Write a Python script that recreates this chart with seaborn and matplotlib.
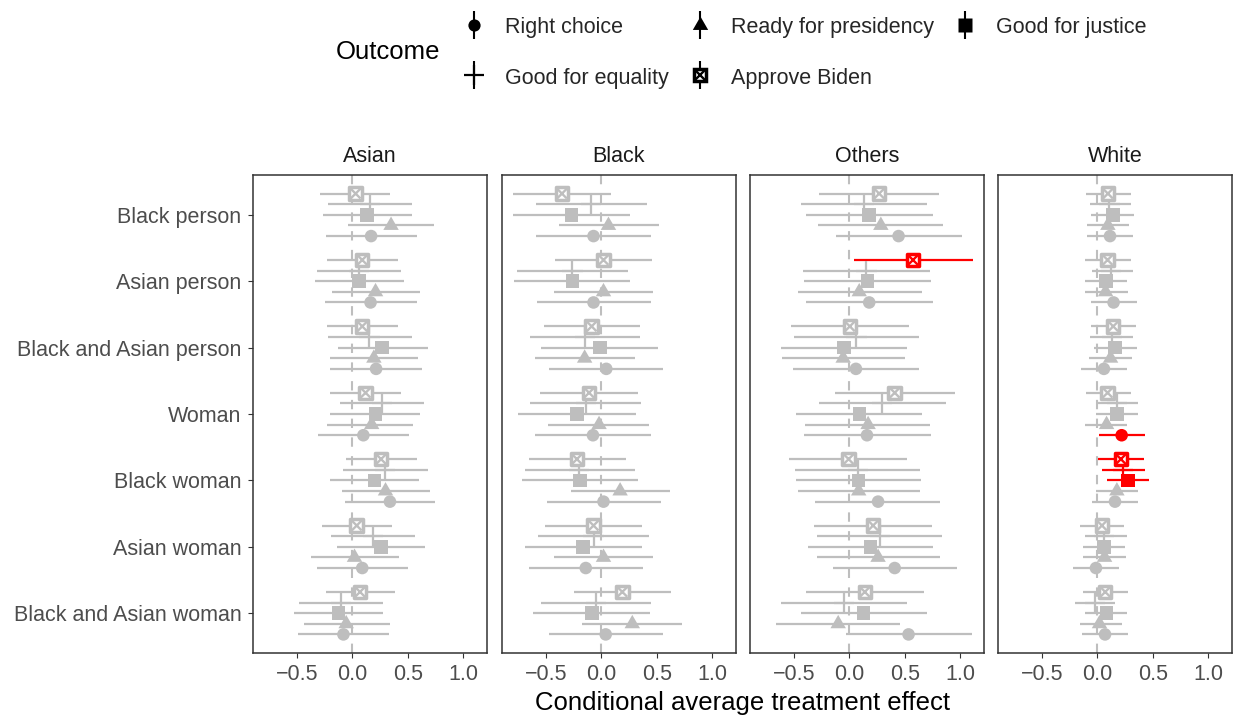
import numpy as np
import pandas as pd
import matplotlib
matplotlib.use("Agg")
import matplotlib.pyplot as plt
import seaborn as sns
from matplotlib.lines import Line2D
from matplotlib.path import Path
from matplotlib.legend_handler import HandlerTuple

# ---------------- data ----------------
treatments = ["Black person", "Asian person", "Black and Asian person", "Woman",
              "Black woman", "Asian woman", "Black and Asian woman"]
groups = ["Asian", "Black", "Others", "White"]
outcomes = ["Right choice", "Ready for presidency", "Good for justice",
            "Good for equality", "Approve Biden"]
x_ticks = [-0.5, 0.0, 0.5, 1.0]
x_tick_labels = ["\u22120.5", "0.0", "0.5", "1.0"]

# rows = outcomes (in the order above), columns = treatments
asian_est = [[0.17, 0.165, 0.215, 0.10, 0.34, 0.09, -0.08],
             [0.35, 0.21, 0.195, 0.175, 0.30, 0.02, -0.055],
             [0.135, 0.06, 0.27, 0.21, 0.20, 0.26, -0.125],
             [0.16, 0.06, 0.155, 0.27, 0.295, 0.19, -0.10],
             [0.03, 0.09, 0.09, 0.12, 0.26, 0.04, 0.07]]
asian_lo = [[-0.24, -0.25, -0.20, -0.31, -0.07, -0.32, -0.49],
            [-0.04, -0.18, -0.20, -0.23, -0.09, -0.37, -0.44],
            [-0.26, -0.34, -0.13, -0.20, -0.20, -0.14, -0.525],
            [-0.22, -0.32, -0.22, -0.11, -0.08, -0.19, -0.48],
            [-0.29, -0.23, -0.23, -0.20, -0.06, -0.27, -0.24]]
asian_hi = [[0.58, 0.58, 0.63, 0.51, 0.75, 0.50, 0.33],
            [0.74, 0.61, 0.59, 0.55, 0.70, 0.42, 0.34],
            [0.54, 0.47, 0.68, 0.61, 0.60, 0.66, 0.28],
            [0.54, 0.44, 0.54, 0.645, 0.68, 0.57, 0.28],
            [0.345, 0.41, 0.41, 0.44, 0.58, 0.36, 0.39]]

black_est = [[-0.07, -0.07, 0.045, -0.075, 0.02, -0.14, 0.04],
             [0.065, 0.02, -0.15, -0.02, 0.17, 0.02, 0.28],
             [-0.27, -0.26, -0.012, -0.22, -0.19, -0.165, -0.085],
             [-0.09, -0.26, -0.15, -0.14, -0.20, -0.07, -0.05],
             [-0.355, 0.02, -0.087, -0.11, -0.22, -0.07, 0.19]]
black_lo = [[-0.59, -0.58, -0.47, -0.60, -0.49, -0.65, -0.475],
            [-0.385, -0.43, -0.60, -0.48, -0.275, -0.43, -0.17],
            [-0.80, -0.79, -0.54, -0.75, -0.72, -0.69, -0.615],
            [-0.59, -0.76, -0.645, -0.645, -0.69, -0.57, -0.54],
            [-0.80, -0.42, -0.52, -0.555, -0.655, -0.51, -0.245]]
black_hi = [[0.45, 0.45, 0.56, 0.445, 0.535, 0.38, 0.56],
            [0.52, 0.47, 0.30, 0.43, 0.62, 0.47, 0.73],
            [0.255, 0.26, 0.51, 0.315, 0.33, 0.37, 0.44],
            [0.41, 0.24, 0.35, 0.36, 0.30, 0.43, 0.45],
            [0.085, 0.455, 0.35, 0.33, 0.22, 0.37, 0.63]]

others_est = [[0.445, 0.18, 0.06, 0.16, 0.26, 0.41, 0.535],
              [0.285, 0.09, -0.055, 0.17, 0.085, 0.26, -0.10],
              [0.18, 0.165, -0.05, 0.093, 0.085, 0.19, 0.13],
              [0.13, 0.155, 0.065, 0.295, 0.08, 0.275, -0.05],
              [0.27, 0.575, 0.005, 0.41, -0.006, 0.215, 0.14]]
others_lo = [[-0.12, -0.39, -0.505, -0.41, -0.31, -0.15, -0.03],
             [-0.28, -0.465, -0.61, -0.40, -0.465, -0.29, -0.66],
             [-0.39, -0.41, -0.62, -0.48, -0.48, -0.37, -0.44],
             [-0.44, -0.42, -0.50, -0.275, -0.49, -0.29, -0.615],
             [-0.27, 0.04, -0.525, -0.13, -0.54, -0.315, -0.39]]
others_hi = [[1.02, 0.76, 0.625, 0.735, 0.82, 0.975, 1.105],
             [0.85, 0.66, 0.50, 0.73, 0.64, 0.815, 0.455],
             [0.76, 0.735, 0.52, 0.66, 0.65, 0.76, 0.70],
             [0.70, 0.73, 0.63, 0.87, 0.64, 0.84, 0.52],
             [0.81, 1.12, 0.54, 0.95, 0.525, 0.75, 0.675]]

white_est = [[0.115, 0.147, 0.06, 0.22, 0.16, -0.012, 0.07],
             [0.096, 0.075, 0.12, 0.084, 0.177, 0.066, 0.02],
             [0.14, 0.078, 0.16, 0.177, 0.276, 0.06, 0.084],
             [0.11, 0.125, 0.13, 0.175, 0.23, 0.06, -0.024],
             [0.096, 0.093, 0.144, 0.093, 0.213, 0.042, 0.072]]
white_lo = [[-0.09, -0.055, -0.147, 0.015, -0.045, -0.22, -0.14],
            [-0.095, -0.115, -0.075, -0.11, -0.015, -0.126, -0.156],
            [-0.055, -0.115, -0.033, -0.015, 0.084, -0.13, -0.108],
            [-0.07, -0.05, -0.063, -0.01, 0.04, -0.115, -0.20],
            [-0.105, -0.11, -0.06, -0.105, 0.01, -0.156, -0.13]]
white_hi = [[0.325, 0.36, 0.267, 0.43, 0.37, 0.195, 0.276],
            [0.29, 0.28, 0.31, 0.27, 0.37, 0.26, 0.225],
            [0.33, 0.27, 0.355, 0.37, 0.47, 0.25, 0.27],
            [0.30, 0.325, 0.32, 0.366, 0.43, 0.264, 0.16],
            [0.30, 0.30, 0.35, 0.30, 0.42, 0.243, 0.276]]

panel_data = {
    "Asian": (asian_est, asian_lo, asian_hi),
    "Black": (black_est, black_lo, black_hi),
    "Others": (others_est, others_lo, others_hi),
    "White": (white_est, white_lo, white_hi),
}

rows = []
for g in groups:
    est, lo, hi = panel_data[g]
    for oi, o in enumerate(outcomes):
        for ti, t in enumerate(treatments):
            rows.append(dict(group=g, outcome=o, treatment=t, oi=oi, ti=ti,
                             est=est[oi][ti], lo=lo[oi][ti], hi=hi[oi][ti]))
df = pd.DataFrame(rows)
df["sig"] = (df["lo"] > 0) | (df["hi"] < 0)
dodge = 0.8 / len(outcomes)
df["y"] = df["ti"] + (2 - df["oi"]) * dodge

# ---------------- style ----------------
sns.set_theme(style="white")
plt.rcParams["font.family"] = ["Liberation Sans", "DejaVu Sans"]

GRAY = "#BEBEBE"
RED = "#FF0000"
pal = {False: GRAY, True: RED}
TICK_FS = 15.5
TITLE_FS = 18.5

tri = Path([(-1, -0.577), (1, -0.577), (0, 1.155), (-1, -0.577)],
           [Path.MOVETO, Path.LINETO, Path.LINETO, Path.CLOSEPOLY])

W, H = 1235, 719
fig = plt.figure(figsize=(W / 100, H / 100), dpi=100)

lo_all, hi_all = df["lo"].min(), df["hi"].max()
span = hi_all - lo_all
xlim = (lo_all - 0.05 * span, hi_all + 0.05 * span)

panel_left = [253, 502, 750, 998]
panel_w = 234
top_px, bot_px = 175, 653

for gi, g in enumerate(groups):
    ax = fig.add_axes([panel_left[gi] / W, 1 - bot_px / H,
                       panel_w / W, (bot_px - top_px) / H])
    d = df[df["group"] == g]
    ax.axvline(0, color=GRAY, lw=1.5, ls=(0, (4.5, 4.5)), zorder=1)
    ax.hlines(d["y"], d["lo"], d["hi"], colors=[pal[s] for s in d["sig"]],
              lw=1.6, zorder=2)

    # circles
    dd = d[d["outcome"] == "Right choice"]
    sns.scatterplot(data=dd, x="est", y="y", hue="sig", palette=pal, marker="o",
                    s=82, edgecolor="none", legend=False, ax=ax, zorder=3)
    # triangles
    dd = d[d["outcome"] == "Ready for presidency"]
    sns.scatterplot(data=dd, x="est", y="y", hue="sig", palette=pal, marker=tri,
                    s=165, edgecolor="none", legend=False, ax=ax, zorder=3)
    # squares
    dd = d[d["outcome"] == "Good for justice"]
    sns.scatterplot(data=dd, x="est", y="y", hue="sig", palette=pal, marker="s",
                    s=95, edgecolor="none", legend=False, ax=ax, zorder=3)
    # plus
    dd = d[d["outcome"] == "Good for equality"]
    ax.scatter(dd["est"], dd["y"], marker="+", s=210,
               c=[pal[s] for s in dd["sig"]], linewidths=1.6, zorder=3)
    # boxed x
    dd = d[d["outcome"] == "Approve Biden"]
    cols = [pal[s] for s in dd["sig"]]
    ax.scatter(dd["est"], dd["y"], marker="s", s=80, facecolors="white",
               edgecolors=cols, linewidths=2.5, zorder=3)
    ax.scatter(dd["est"], dd["y"], marker="x", s=50, c=cols,
               linewidths=1.7, zorder=4)

    ax.set_xlim(xlim)
    ax.set_ylim(len(treatments) - 1 + 0.6, -0.6)
    ax.set_xticks(x_ticks)
    ax.set_xticklabels(x_tick_labels)
    ax.set_yticks(range(len(treatments)))
    if gi == 0:
        ax.set_yticklabels(treatments)
    else:
        ax.set_yticklabels([])
        ax.tick_params(axis="y", length=0)
    ax.set_xlabel("")
    ax.set_ylabel("")
    ax.tick_params(axis="x", which="major", labelsize=TICK_FS,
                   labelcolor="#4D4D4D", color="#333333", width=0.8,
                   length=3.3, pad=4.5, bottom=True)
    ax.tick_params(axis="y", which="major", labelsize=TICK_FS,
                   labelcolor="#4D4D4D", color="#333333", width=0.8,
                   length=3.3, pad=5.0, left=(gi == 0))
    for sp in ax.spines.values():
        sp.set_color("#333333")
        sp.set_linewidth(1.1)
        sp.set_visible(True)
    ax.set_title(g, fontsize=TICK_FS, color="#1A1A1A", pad=9.5)
    ax.grid(False)

fig.text(((panel_left[0] + panel_left[-1] + panel_w) / 2) / W, 1 - 703 / H,
         "Conditional average treatment effect", ha="center", va="center",
         fontsize=TITLE_FS, color="black")

# ---------------- legend ----------------
def vline():
    return Line2D([], [], marker="|", markersize=20, mew=1.5, color="black",
                  linestyle="none")

h_rc = (vline(), Line2D([], [], marker="o", markersize=8.8, color="black",
                        markeredgecolor="none", linestyle="none"))
h_rp = (vline(), Line2D([], [], marker=tri, markersize=12.8, color="black",
                        markeredgecolor="none", linestyle="none"))
h_gj = (vline(), Line2D([], [], marker="s", markersize=9.6, color="black",
                        markeredgecolor="none", linestyle="none"))
h_ge = (vline(), Line2D([], [], marker="+", markersize=14.5, mew=1.6,
                        color="black", linestyle="none"))
h_ab = (vline(),
        Line2D([], [], marker="s", markersize=8.9, markerfacecolor="white",
               markeredgecolor="black", mew=2.5, linestyle="none"),
        Line2D([], [], marker="x", markersize=7.0, mew=1.7, color="black",
               linestyle="none"))

handles = [h_rc, h_ge, h_rp, h_ab, h_gj]
labels = ["Right choice", "Good for equality", "Ready for presidency",
          "Approve Biden", "Good for justice"]
fig.legend(handles, labels, ncol=3, loc="upper left",
           bbox_to_anchor=(463 / W, 1 - 16 / H), frameon=False,
           fontsize=TICK_FS, handlelength=1.0, handleheight=1.0,
           handletextpad=0.95, columnspacing=0.93, labelspacing=1.33,
           borderpad=0, borderaxespad=0,
           handler_map={tuple: HandlerTuple(ndivide=1, pad=0)})
fig.text(336 / W, 1 - 52 / H, "Outcome", ha="left", va="center",
         fontsize=TITLE_FS, color="black")

fig.savefig("out.png", dpi=100, facecolor="white")
